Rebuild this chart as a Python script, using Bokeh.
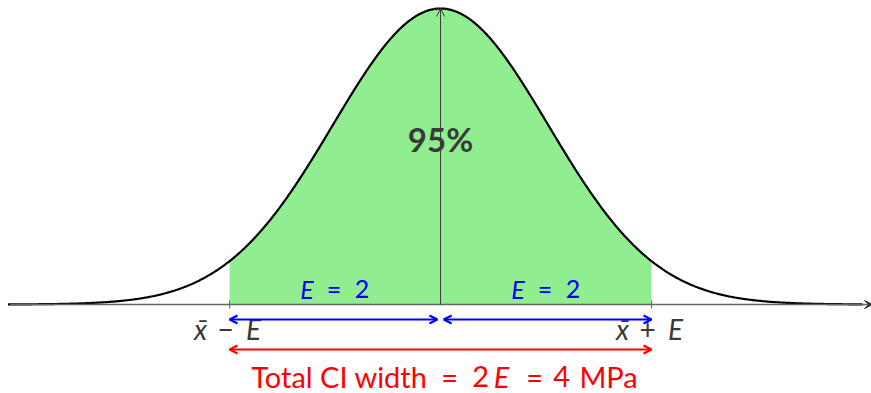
import numpy as np
from bokeh.plotting import figure
from bokeh.models import Arrow, OpenHead, VeeHead, Range1d
from bokeh.core.properties import value
from bokeh.embed import file_html
from bokeh.resources import INLINE

# Confidence interval parameters (MPa)
mean = 0.0
margin_E = 2.0
z_crit = 1.96
ci_label = "95%"
sigma = margin_E / z_crit
unit = "MPa"
total_width = 2 * margin_E

# Sampling distribution of the mean
x = np.linspace(-4.1, 4.0, 800)
pdf = np.exp(-0.5 * ((x - mean) / sigma) ** 2) / (sigma * np.sqrt(2 * np.pi))
peak = 1.0 / (sigma * np.sqrt(2 * np.pi))
xs = np.linspace(mean - margin_E, mean + margin_E, 400)
pdf_s = np.exp(-0.5 * ((xs - mean) / sigma) ** 2) / (sigma * np.sqrt(2 * np.pi))

FONT = "Lato"
GREY = "#3a3a3a"
PX = 296  # screen pixels per peak height

p = figure(width=871, height=393, output_backend="svg", toolbar_location=None,
           x_range=Range1d(-4.171, 4.085),
           y_range=Range1d(-peak * 89 / PX, peak * 304 / PX),
           x_axis_type=None, y_axis_type=None, min_border=0,
           outline_line_color=None, background_fill_color="white",
           border_fill_color="white")
p.grid.visible = False

def yrel(pixels):
    return pixels / PX * peak

# shaded central region
p.varea(x=xs, y1=0, y2=pdf_s, fill_color="#90ee90")

# horizontal axis with arrow
p.add_layout(Arrow(x_start=-4.08, y_start=0, x_end=4.095, y_end=0,
                   line_color="#666666", line_width=1.5,
                   end=VeeHead(size=8, fill_color="#333333", line_color="#333333", line_width=1)))

# density curve
p.line(x, pdf, line_color="black", line_width=2.2)

# ticks at the interval limits
tk = yrel(4)
p.segment(x0=[mean - margin_E, mean + margin_E], y0=[-tk, -tk],
          x1=[mean - margin_E, mean + margin_E], y1=[tk, tk],
          line_color="#777777", line_width=1.2)

# centre line up to the peak
p.add_layout(Arrow(x_start=mean, y_start=0, x_end=mean, y_end=peak,
                   line_color=GREY, line_width=1,
                   end=OpenHead(size=8, line_width=1, line_color=GREY)))

# margin-of-error arrows
yb = yrel(-15)
gap = 0.03
for a, b in [(mean - margin_E, mean - gap), (mean + gap, mean + margin_E)]:
    p.add_layout(Arrow(x_start=a, y_start=yb, x_end=b, y_end=yb,
                       line_color="blue", line_width=2,
                       start=OpenHead(size=8, line_width=2, line_color="blue"),
                       end=OpenHead(size=8, line_width=2, line_color="blue")))

# total width arrow
yr = yrel(-45)
p.add_layout(Arrow(x_start=mean - margin_E, y_start=yr, x_end=mean + margin_E, y_end=yr,
                   line_color="red", line_width=2,
                   start=OpenHead(size=8, line_width=2, line_color="red"),
                   end=OpenHead(size=8, line_width=2, line_color="red")))

def piece(xd, base_px, txt, dx, color, size, style="normal", align="center"):
    # base_px: baseline height above the axis in pixels
    yd = yrel(base_px + 0.43 * size)
    p.text(x=[xd], y=[yd], text=[txt], x_offset=dx, text_align=align,
           text_baseline="alphabetic", text_color=color,
           text_font=value(FONT), text_font_size=f"{size}px",
           text_font_style=style)

# central percentage
piece(mean, 151, ci_label, 0, GREY, 33, "bold")

# E = 2 labels over each half
for c in [mean - margin_E / 2, mean + margin_E / 2]:
    piece(c, 5, "E", -28, "blue", 25, "italic")
    piece(c, 5, "=", -1, "blue", 25)
    piece(c, 5, f"{margin_E:g}", 27, "blue", 25)

# interval limits
for c, sign in [(mean - margin_E, "\u2212"), (mean + margin_E, "+")]:
    piece(c, -37, "x\u0304", -29, GREY, 28, "italic")
    piece(c, -37, sign, -4, GREY, 28)
    piece(c, -37, "E", 24, GREY, 28, "italic")

# total width caption
yT = -84
piece(mean, yT, "Total CI width", -13, "red", 29, align="right")
piece(mean, yT, "=", 9, "red", 29)
piece(mean, yT, "2", 40, "red", 29)
piece(mean, yT, "E", 61, "red", 29, "italic")
piece(mean, yT, "=", 94, "red", 29)
piece(mean, yT, f"{total_width:g}", 121, "red", 29)
piece(mean, yT, unit, 168, "red", 29)

open("out.html", "w").write(file_html(p, INLINE))
